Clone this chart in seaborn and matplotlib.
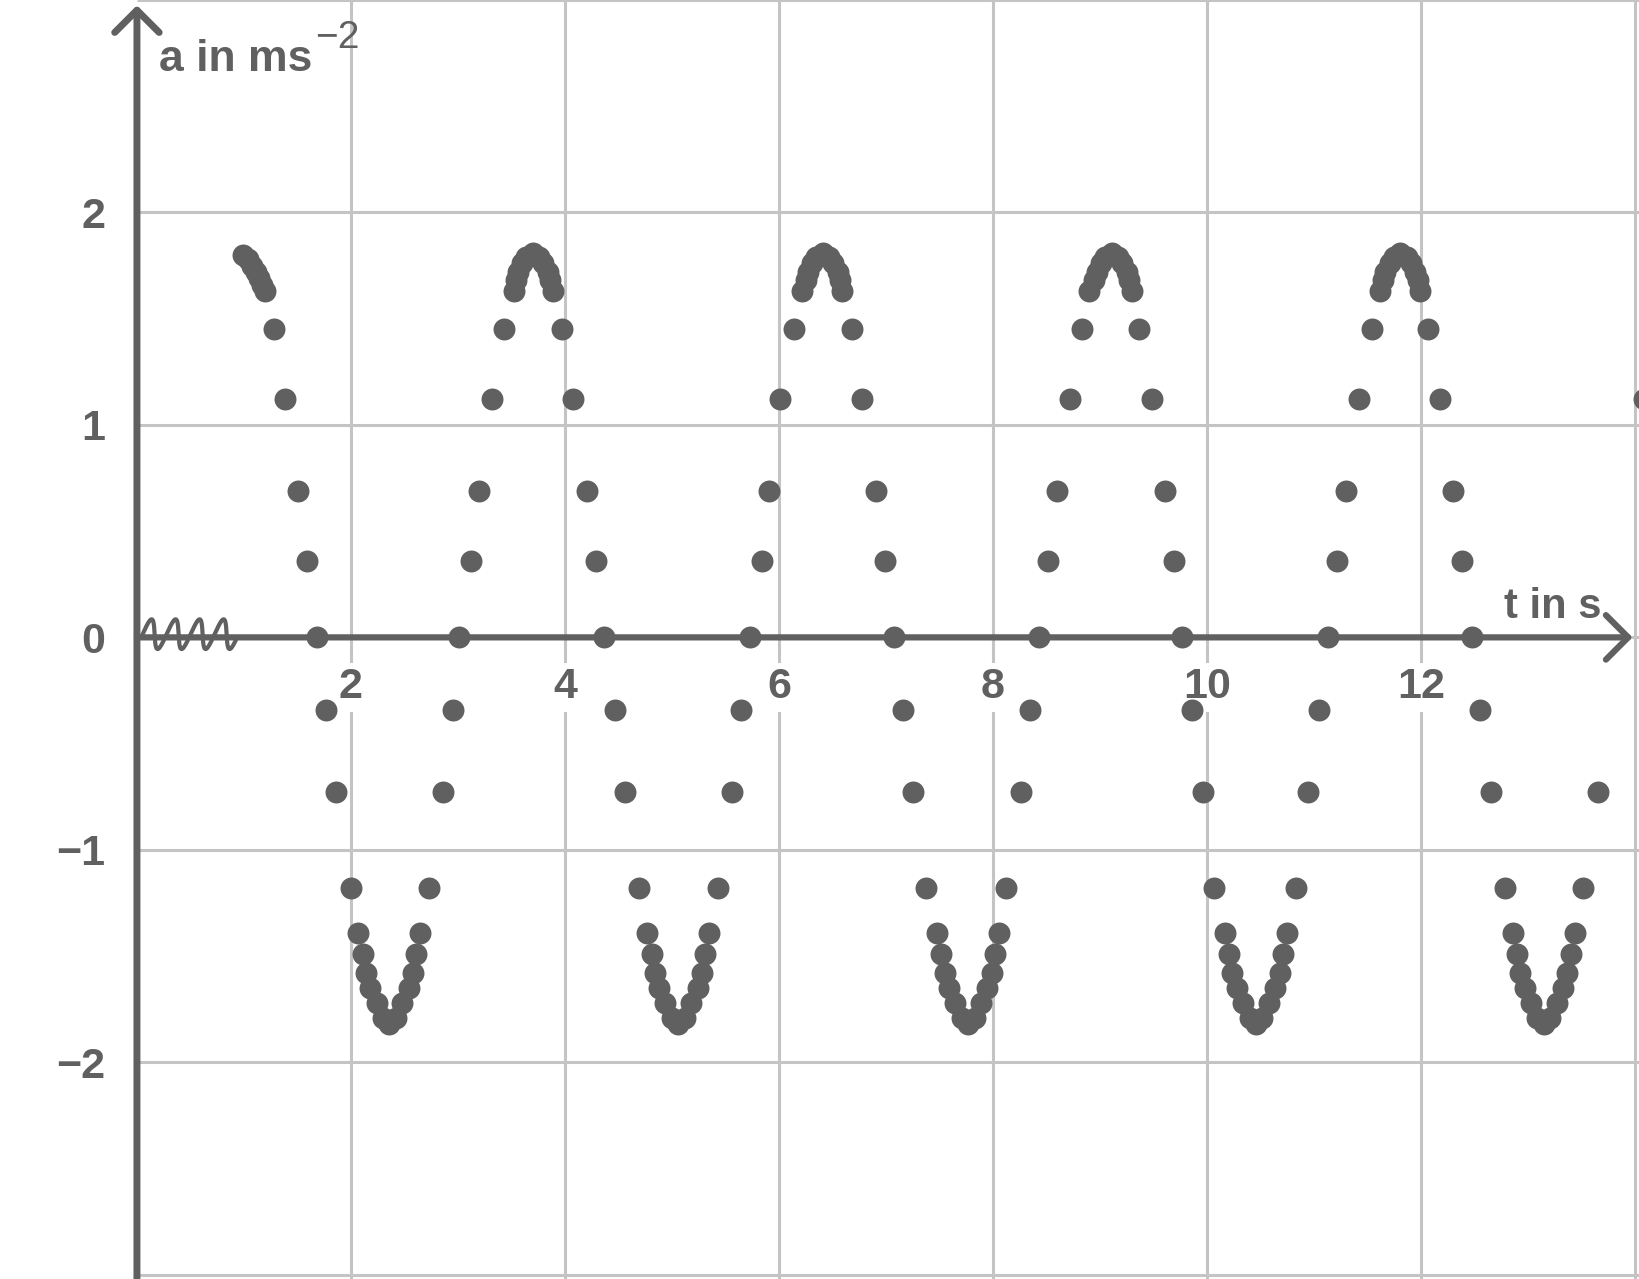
import matplotlib
matplotlib.use('Agg')
import matplotlib.pyplot as plt
import numpy as np
import pandas as pd
import seaborn as sns

GREY = '#606060'
GRID = '#c4c4c4'

t_values = [
    0.99, 1.04, 1.08, 1.11, 1.14, 1.17, 1.20, 1.28, 1.38, 1.51, 1.59, 1.68, 1.77, 1.86, 2.00,
    2.07, 2.11, 2.14, 2.18, 2.24, 2.30, 2.36, 2.42, 2.48, 2.54, 2.58, 2.61, 2.65,
    2.73, 2.86, 2.95, 3.01, 3.12, 3.20, 3.32, 3.43, 3.52,
    3.54, 3.56, 3.60, 3.64, 3.70, 3.76, 3.80, 3.84, 3.86,
    3.89, 3.97, 4.08, 4.21, 4.29, 4.37, 4.47, 4.56, 4.69,
    4.77, 4.81, 4.84, 4.88, 4.94, 5.00, 5.06, 5.12, 5.18, 5.24, 5.28, 5.31, 5.35,
    5.43, 5.56, 5.65, 5.73, 5.84, 5.91, 6.01, 6.14, 6.22,
    6.25, 6.27, 6.31, 6.35, 6.41, 6.47, 6.51, 6.55, 6.57,
    6.59, 6.68, 6.78, 6.91, 6.99, 7.08, 7.16, 7.25, 7.38,
    7.48, 7.52, 7.55, 7.59, 7.65, 7.71, 7.77, 7.83, 7.89, 7.95, 7.99, 8.02, 8.06,
    8.12, 8.26, 8.35, 8.43, 8.52, 8.60, 8.72, 8.83, 8.90,
    8.95, 8.97, 9.01, 9.05, 9.11, 9.17, 9.21, 9.25, 9.27,
    9.30, 9.37, 9.49, 9.61, 9.69, 9.77, 9.86, 9.96, 10.07,
    10.17, 10.21, 10.24, 10.28, 10.34, 10.40, 10.46, 10.52, 10.58, 10.64, 10.68, 10.71, 10.75,
    10.83, 10.95, 11.05, 11.13, 11.22, 11.30, 11.42, 11.54, 11.62,
    11.65, 11.67, 11.71, 11.75, 11.81, 11.87, 11.91, 11.95, 11.97,
    11.99, 12.07, 12.18, 12.30, 12.39, 12.48, 12.55, 12.66, 12.79,
    12.86, 12.90, 12.93, 12.97, 13.03, 13.09, 13.15, 13.21, 13.27, 13.33, 13.37, 13.40, 13.44,
    13.52, 13.66, 14.09,
]
a_values = [
    1.80, 1.78, 1.75, 1.72, 1.69, 1.66, 1.63, 1.45, 1.12, 0.69, 0.36, 0.00, -0.34, -0.73, -1.18,
    -1.39, -1.49, -1.58, -1.65, -1.72, -1.79, -1.82, -1.79, -1.72, -1.65, -1.58, -1.49, -1.39,
    -1.18, -0.73, -0.34, 0.00, 0.36, 0.69, 1.12, 1.45, 1.63,
    1.68, 1.72, 1.76, 1.79, 1.81, 1.79, 1.76, 1.72, 1.68,
    1.63, 1.45, 1.12, 0.69, 0.36, 0.00, -0.34, -0.73, -1.18,
    -1.39, -1.49, -1.58, -1.65, -1.72, -1.79, -1.82, -1.79, -1.72, -1.65, -1.58, -1.49, -1.39,
    -1.18, -0.73, -0.34, 0.00, 0.36, 0.69, 1.12, 1.45, 1.63,
    1.68, 1.72, 1.76, 1.79, 1.81, 1.79, 1.76, 1.72, 1.68,
    1.63, 1.45, 1.12, 0.69, 0.36, 0.00, -0.34, -0.73, -1.18,
    -1.39, -1.49, -1.58, -1.65, -1.72, -1.79, -1.82, -1.79, -1.72, -1.65, -1.58, -1.49, -1.39,
    -1.18, -0.73, -0.34, 0.00, 0.36, 0.69, 1.12, 1.45, 1.63,
    1.68, 1.72, 1.76, 1.79, 1.81, 1.79, 1.76, 1.72, 1.68,
    1.63, 1.45, 1.12, 0.69, 0.36, 0.00, -0.34, -0.73, -1.18,
    -1.39, -1.49, -1.58, -1.65, -1.72, -1.79, -1.82, -1.79, -1.72, -1.65, -1.58, -1.49, -1.39,
    -1.18, -0.73, -0.34, 0.00, 0.36, 0.69, 1.12, 1.45, 1.63,
    1.68, 1.72, 1.76, 1.79, 1.81, 1.79, 1.76, 1.72, 1.68,
    1.63, 1.45, 1.12, 0.69, 0.36, 0.00, -0.34, -0.73, -1.18,
    -1.39, -1.49, -1.58, -1.65, -1.72, -1.79, -1.82, -1.79, -1.72, -1.65, -1.58, -1.49, -1.39,
    -1.18, -0.73, 1.12,
]

x_ticks = [2, 4, 6, 8, 10, 12]
y_ticks = [2, 1, 0, -1, -2]
y_tick_labels = ['2', '1', '0', '\u22121', '\u22122']
x_grid = [2, 4, 6, 8, 10, 12, 14]
y_grid = [-3, -2, -1, 0, 1, 2, 3]

X_MIN, X_MAX = -1.28, 14.04
Y_MIN, Y_MAX = -3.02, 3.0


def draw_spring(ax):
    # little spring symbol sitting on the time axis next to the origin
    theta = np.linspace(-0.216, 8 * np.pi - 0.3, 600)
    xs = 0.053 + 0.0357 * theta + 0.028 * np.sin(theta)
    ys = 0.015 + 0.07 * np.sin(theta)
    ax.plot(xs, ys, color=GREY, lw=3, zorder=4, solid_capstyle='round')


def main():
    sns.set_style('white')
    plt.rcParams['font.family'] = ['Liberation Sans', 'DejaVu Sans']

    df = pd.DataFrame({'t': t_values, 'a': a_values})

    fig = plt.figure(figsize=(16.39, 12.79), dpi=100)
    ax = fig.add_axes([0, 0, 1, 1])
    ax.set_xlim(X_MIN, X_MAX)
    ax.set_ylim(Y_MIN, Y_MAX)
    ax.axis('off')

    # grid only on the positive-t side
    ax.vlines(x_grid, Y_MIN, Y_MAX, color=GRID, lw=2.2, zorder=1)
    ax.hlines(y_grid, 0, X_MAX, color=GRID, lw=2.2, zorder=1)

    # axes with open arrow heads
    ax.annotate('', xy=(13.98, 0), xytext=(0, 0),
                arrowprops=dict(arrowstyle='->,head_length=0.4,head_width=0.4',
                                color=GREY, lw=4.5, mutation_scale=40,
                                shrinkA=0, shrinkB=0), zorder=3)
    ax.annotate('', xy=(0, 2.975), xytext=(0, Y_MIN),
                arrowprops=dict(arrowstyle='->,head_length=0.4,head_width=0.4',
                                color=GREY, lw=5, mutation_scale=40,
                                shrinkA=0, shrinkB=0), zorder=3)

    draw_spring(ax)

    sns.scatterplot(data=df, x='t', y='a', ax=ax, color=GREY, s=250,
                    linewidth=0, zorder=5, legend=False)

    for t in x_ticks:
        ax.text(t, -0.287, str(t), ha='center', va='baseline', fontsize=31,
                fontweight='bold', color=GREY, zorder=2,
                bbox=dict(facecolor='white', edgecolor='none', pad=3))
    for v, lab in zip(y_ticks, y_tick_labels):
        ax.text(-0.295, v - 0.073, lab, ha='right', va='baseline', fontsize=31,
                fontweight='bold', color=GREY)

    ax.text(13.69, 0.089, 't in s', ha='right', va='baseline', fontsize=30,
            fontweight='bold', color=GREY)
    ax.text(0.205, 2.668, 'a in ms', ha='left', va='baseline', fontsize=32,
            fontweight='bold', color=GREY)
    ax.text(1.67, 2.772, '\u22122', ha='left', va='baseline', fontsize=28,
            color=GREY)

    ax.set_xlabel('')
    ax.set_ylabel('')
    fig.savefig('out.png', dpi=100)


if __name__ == '__main__':
    main()
